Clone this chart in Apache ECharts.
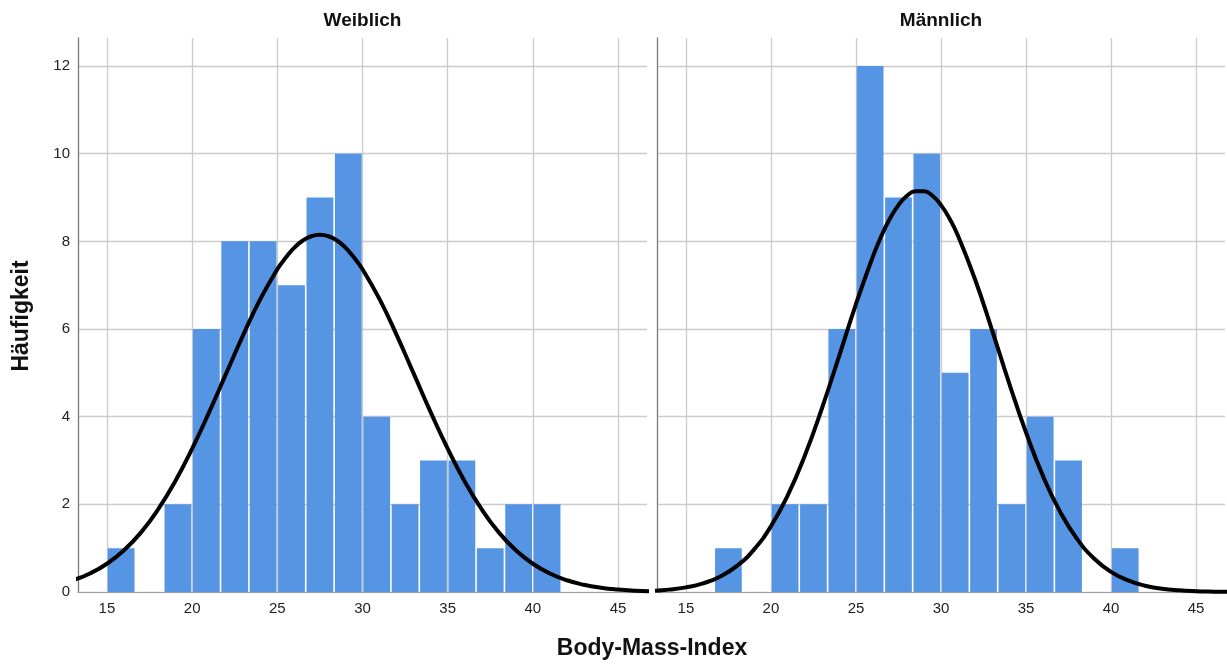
<!DOCTYPE html>
<html><head><meta charset="utf-8">
<script src="https://cdn.jsdelivr.net/npm/echarts@6/dist/echarts.min.js"></script>
<style>html,body{margin:0;padding:0;background:#fff}#chart{width:1227px;height:666px}</style>
</head><body><div id="chart"></div>
<script>
// ---- data ----
const panelTitles = ['Weiblich', 'Männlich'];
const xAxisTitle = 'Body-Mass-Index';
const yAxisTitle = 'Häufigkeit';
const binEdges = [15, 16.667, 18.333, 20, 21.667, 23.333, 25, 26.667, 28.333, 30, 31.667, 33.333, 35, 36.667, 38.333, 40, 41.667];
const countsWeiblich = [1, 0, 2, 6, 8, 8, 7, 9, 10, 4, 2, 3, 3, 1, 2, 2];
const countsMaennlich = [0, 1, 0, 2, 2, 6, 12, 9, 10, 5, 6, 2, 4, 3, 0, 1];
const curveXWeiblich = [13,14,15,16,17,18,19,20,21,22,23,24,25,25.5,26,26.5,27,27.5,28,28.5,29,29.5,30,31,32,33,34,35,36,37,38,39,40,41,42,43,44,45,46,47];
const curveWeiblich = [0.268,0.423,0.645,0.952,1.361,1.884,2.523,3.271,4.104,4.988,5.866,6.681,7.364,7.630,7.857,8.019,8.117,8.150,8.117,8.019,7.857,7.630,7.364,6.681,5.866,4.988,4.104,3.271,2.523,1.884,1.361,0.952,0.645,0.423,0.268,0.165,0.098,0.056,0.031,0.017];
const curveXMaennlich = [13,14,15,16,17,18,19,20,21,22,23,24,25,26,26.5,27,27.5,28,28.5,29,29.5,30,30.5,31,32,33,34,35,36,37,38,39,40,41,42,43,44,45,46,47];
const curveMaennlich = [0.026,0.054,0.105,0.196,0.350,0.596,0.968,1.499,2.214,3.120,4.193,5.373,6.570,7.660,8.130,8.521,8.827,9.039,9.146,9.146,9.039,8.827,8.521,8.127,7.136,5.977,4.774,3.638,2.643,1.833,1.212,0.764,0.460,0.264,0.144,0.075,0.038,0.018,0.008,0.004];
const xTickLabels = [15, 20, 25, 30, 35, 40, 45];
const yTickLabels = [0, 2, 4, 6, 8, 10, 12];

// ---- styling ----
const FONT = '"Liberation Sans", Arial, sans-serif';
const BAR = '#5595e3';
const GRIDC = '#cbcbcb';
const X_MIN = 13.3, X_MAX = 46.7, Y_MAX = 12.64;

function binData(counts) {
  return counts.map((c, i) => [binEdges[i], binEdges[i + 1], c]);
}
function curveData(xs, vals) { return xs.map((x, i) => [x, vals[i]]); }

function renderBar(params, api) {
  const c = api.value(2);
  if (!c) return null;
  const p0 = api.coord([api.value(0), c]);
  const p1 = api.coord([api.value(1), 0]);
  return {
    type: 'rect',
    shape: { x: p0[0] + 0.8, y: p0[1], width: p1[0] - p0[0] - 1.6, height: p1[1] - p0[1] },
    style: { fill: BAR }
  };
}

function xAxis(i) {
  return {
    type: 'value', gridIndex: i, min: X_MIN, max: X_MAX, minInterval: 5, maxInterval: 5,
    axisLine: { show: true, lineStyle: { color: '#a0a0a0', width: 1.2 } },
    axisTick: { show: false },
    axisLabel: {
      fontFamily: FONT, fontSize: 15, color: '#222', margin: 9,
      showMinLabel: false, showMaxLabel: false,
      formatter: v => (xTickLabels.indexOf(Math.round(v * 1000) / 1000) >= 0 ? String(v) : '')
    },
    splitLine: { show: true, showMinLine: false, showMaxLine: false, lineStyle: { color: GRIDC, width: 1.3 } }
  };
}
function yAxis(i, labels) {
  return {
    type: 'value', gridIndex: i, min: 0, max: Y_MAX, interval: 2,
    axisLine: { show: true, lineStyle: { color: '#7a7a7a', width: 1.3 } },
    axisTick: { show: false },
    axisLabel: {
      show: labels, fontFamily: FONT, fontSize: 15, color: '#222', margin: 8,
      showMaxLabel: false,
      formatter: v => (yTickLabels.indexOf(v) >= 0 ? String(v) : '')
    },
    splitLine: { show: true, showMaxLine: false, lineStyle: { color: GRIDC, width: 1.3 } }
  };
}

const chart = echarts.init(document.getElementById('chart'), null, { renderer: 'canvas' });
chart.setOption({
  animation: false,
  backgroundColor: '#ffffff',
  grid: [
    { left: 78, top: 38, width: 569, height: 554 },
    { left: 657, top: 38, width: 568, height: 554 }
  ],
  xAxis: [xAxis(0), xAxis(1)],
  yAxis: [yAxis(0, true), yAxis(1, false)],
  series: [
    { type: 'custom', xAxisIndex: 0, yAxisIndex: 0, renderItem: renderBar, data: binData(countsWeiblich), encode: { x: [0, 1], y: 2 }, z: 2 },
    { type: 'line', xAxisIndex: 0, yAxisIndex: 0, data: curveData(curveXWeiblich, curveWeiblich), smooth: 0.5, symbol: 'none', lineStyle: { color: '#000', width: 4 }, z: 3 },
    { type: 'custom', xAxisIndex: 1, yAxisIndex: 1, renderItem: renderBar, data: binData(countsMaennlich), encode: { x: [0, 1], y: 2 }, z: 2 },
    { type: 'line', xAxisIndex: 1, yAxisIndex: 1, data: curveData(curveXMaennlich, curveMaennlich), smooth: 0.5, symbol: 'none', lineStyle: { color: '#000', width: 4 }, z: 3 }
  ],
  graphic: [
    { type: 'text', x: 362.5, y: 21, style: { text: panelTitles[0], font: 'bold 19px ' + FONT, fill: '#111', textAlign: 'center', textVerticalAlign: 'middle' } },
    { type: 'text', x: 941, y: 21, style: { text: panelTitles[1], font: 'bold 19px ' + FONT, fill: '#111', textAlign: 'center', textVerticalAlign: 'middle' } },
    { type: 'text', x: 652, y: 649, style: { text: xAxisTitle, font: 'bold 23px ' + FONT, fill: '#111', textAlign: 'center', textVerticalAlign: 'middle' } },
    { type: 'text', x: 22, y: 316, rotation: Math.PI / 2, style: { text: yAxisTitle, font: 'bold 23px ' + FONT, fill: '#111', textAlign: 'center', textVerticalAlign: 'middle' } }
  ]
});
</script></body></html>
